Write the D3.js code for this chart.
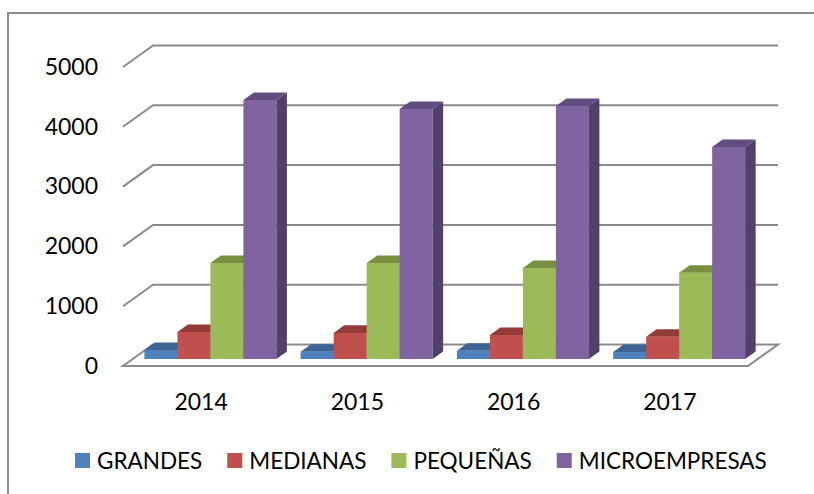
<!DOCTYPE html>
<html>
<head>
<meta charset="utf-8">
<script src="https://cdn.jsdelivr.net/npm/d3@7"></script>
<style>
  body { margin: 0; background: #fff; }
  text { font-family: Lato, "Liberation Sans", sans-serif; fill: #000; }
</style>
</head>
<body>
<script>
// chart data
const years = ["2014", "2015", "2016", "2017"];
const seriesNames = ["GRANDES", "MEDIANAS", "PEQUEÑAS", "MICROEMPRESAS"];
const grandes = [150, 120, 135, 115];
const medianas = [450, 435, 400, 370];
const pequenas = [1605, 1605, 1520, 1440];
const micro = [4330, 4180, 4230, 3545];
const yTicks = [0, 1000, 2000, 3000, 4000, 5000];

const values = [grandes, medianas, pequenas, micro];
const colors = [
  { front: "#4f81bd", top: "#3d6594", side: "#334f74" },
  { front: "#c0504d", top: "#943b39", side: "#7a302e" },
  { front: "#9bbb59", top: "#788f40", side: "#5f7233" },
  { front: "#8064a2", top: "#624d80", side: "#52406a" }
];

const W = 814, H = 494;
// floor / depth of the 3d box
const DX = 30, DY = -21.5;
const d0 = 0.33, d1 = 0.68; // bar depth inside the floor

let svg = d3.select("body").append("svg")
    .attr("width", W)
    .attr("height", H);

// outer frame
svg.append("rect")
    .attr("x", 8).attr("y", 13)
    .attr("width", 900).attr("height", 700)
    .attr("fill", "none")
    .attr("stroke", "#8a8a8a")
    .attr("stroke-width", 2);

let x0 = d3.scaleBand().domain(years).range([123, 748]);
let x1 = d3.scaleBand().domain(seriesNames).range([11.5, 143.5]);
let y = d3.scaleLinear().domain([0, 5000]).range([366, 67]);

// project a point (x in front plane, value, depth fraction)
let P = function (px, v, d) {
    return [px + d * DX, y(v) + d * DY];
};

// floor
let fl = [P(123, 0, 0), P(748, 0, 0), P(748, 0, 1), P(123, 0, 1)];
svg.append("polygon")
    .attr("points", fl.map(p => p.join(",")).join(" "))
    .attr("fill", "#fff")
    .attr("stroke", "#8a8a8a")
    .attr("stroke-width", 2);

// grid lines on side and back walls
svg.selectAll(".grid")
    .data(yTicks.filter(t => t > 0))
    .enter().append("polyline")
    .attr("class", "grid")
    .attr("points", function (t) {
        return [P(123, t, 0), P(123, t, 1), P(748, t, 1)].map(p => p.join(",")).join(" ");
    })
    .attr("fill", "none")
    .attr("stroke", "#8a8a8a")
    .attr("stroke-width", 2);

// bars, drawn left to right so the sides overlap properly
let bars = [];
years.forEach(function (yr, i) {
    seriesNames.forEach(function (s, j) {
        bars.push({ year: yr, s: s, j: j, v: values[j][i] });
    });
});

let g = svg.selectAll(".bar")
    .data(bars)
    .enter().append("g")
    .attr("class", "bar");

let pts = function (arr) { return arr.map(p => p.join(",")).join(" "); };

g.each(function (d) {
    let el = d3.select(this);
    let xl = x0(d.year) + x1(d.s);
    let xr = xl + x1.bandwidth();
    let c = colors[d.j];
    // front
    el.append("polygon")
        .attr("points", pts([P(xl, 0, d0), P(xr, 0, d0), P(xr, d.v, d0), P(xl, d.v, d0)]))
        .attr("fill", c.front);
    // side
    el.append("polygon")
        .attr("points", pts([P(xr, 0, d0), P(xr, 0, d1), P(xr, d.v, d1), P(xr, d.v, d0)]))
        .attr("fill", c.side);
    // top
    el.append("polygon")
        .attr("points", pts([P(xl, d.v, d0), P(xr, d.v, d0), P(xr, d.v, d1), P(xl, d.v, d1)]))
        .attr("fill", c.top);
});

// axes
let yAxis = svg.append("g")
    .attr("transform", "translate(123,0)")
    .call(d3.axisLeft(y).tickValues(yTicks).tickSize(0).tickPadding(25).tickFormat(d3.format("d")));
yAxis.select(".domain").remove();
yAxis.selectAll("text").style("font-size", "23px").style("font-family", "Lato, sans-serif");

let xAxis = svg.append("g")
    .attr("transform", "translate(0,366)")
    .call(d3.axisBottom(x0).tickSize(0).tickPadding(28));
xAxis.select(".domain").remove();
xAxis.selectAll("text").style("font-size", "23px").style("font-family", "Lato, sans-serif");

// legend
let lg = svg.append("g").attr("transform", "translate(75,453)");
let lx = 0;
seriesNames.forEach(function (s, j) {
    lg.append("rect")
        .attr("x", lx).attr("y", 0)
        .attr("width", 15).attr("height", 15)
        .attr("fill", colors[j].front);
    let t = lg.append("text")
        .attr("x", lx + 22).attr("y", 16)
        .style("font-size", "22.5px")
        .text(s);
    lx += 22 + t.node().getComputedTextLength() + 25;
});
</script>
</body>
</html>
